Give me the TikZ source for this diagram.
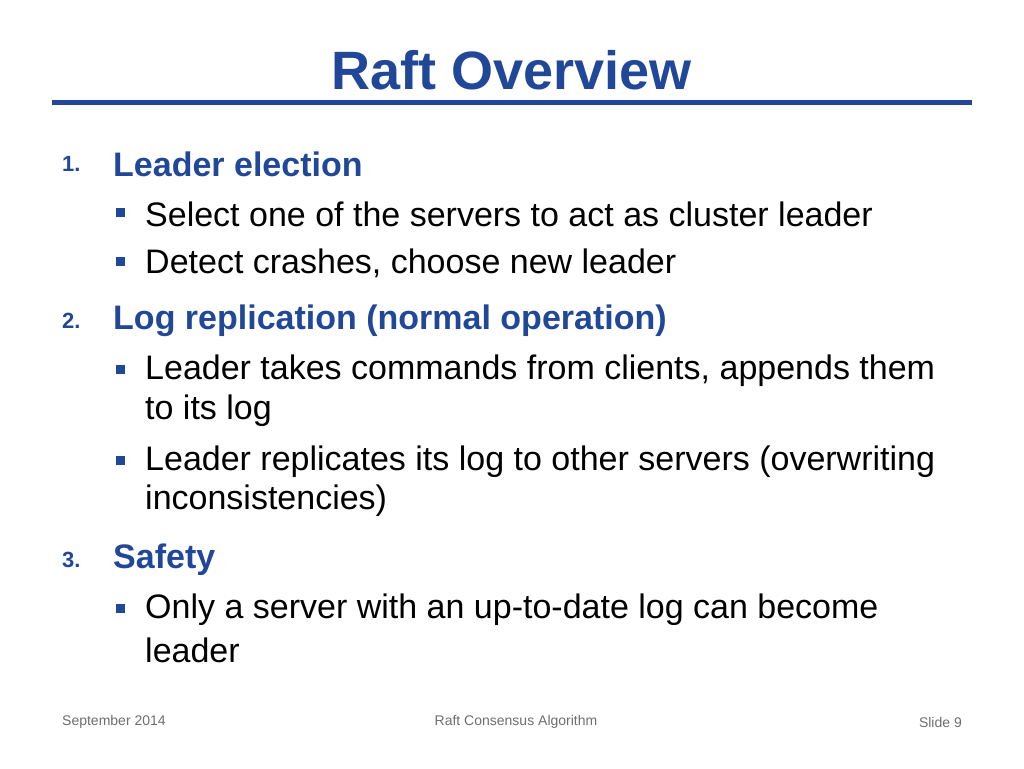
\documentclass[tikz,border=0pt]{standalone}
\usepackage{fontspec}
\setmainfont{Liberation Sans}
\definecolor{rblue}{RGB}{33,72,152}
\definecolor{fgray}{RGB}{110,110,110}
\begin{document}
\begin{tikzpicture}[x=1pt,y=-1pt,
  head/.style={anchor=west,inner sep=0pt,font=\fontsize{34}{38}\selectfont\bfseries,text=rblue},
  num/.style={anchor=west,inner sep=0pt,font=\fontsize{22}{26}\selectfont\bfseries,text=rblue},
  body/.style={anchor=west,inner sep=0pt,font=\fontsize{34}{38}\selectfont,text=black},
  bul/.style={fill=rblue,minimum size=9pt,inner sep=0pt},
  foot/.style={inner sep=0pt,font=\fontsize{14}{16}\selectfont,text=fgray}]
\useasboundingbox (0,0) rectangle (1024,768);
\node[inner sep=0pt,font=\fontsize{54}{60}\selectfont\bfseries,text=rblue] (title) at (512,70) {Raft Overview};
\coordinate (r1) at (52,102); \coordinate (r2) at (972,102);
\draw[rblue,line width=5pt] (r1) -- (r2);
\node[num] (n1) at (62,164) {1.};
\node[head] (h1) at (113,164) {Leader election};
\node[bul] (b1) at (120,212) {}; \node[body] (t1) at (145,214) {Select one of the servers to act as cluster leader};
\node[bul] (b2) at (120,261) {}; \node[body] (t2) at (145,263) {Detect crashes, choose new leader};
\node[num] (n2) at (62,321) {2.};
\node[head] (h2) at (113,321) {Log replication (normal operation)};
\node[bul] (b3) at (120,369) {}; \node[body] (t3) at (145,371) {Leader takes commands from clients, appends them};
\node[body] (t3b) at (145,411) {to its log};
\node[bul] (b4) at (120,460) {}; \node[body] (t4) at (145,462) {Leader replicates its log to other servers (overwriting};
\node[body] (t4b) at (145,501) {inconsistencies)};
\node[num] (n3) at (62,560) {3.};
\node[head] (h3) at (113,560) {Safety};
\node[bul] (b5) at (120,608) {}; \node[body] (t5) at (145,610) {Only a server with an up-to-date log can become};
\node[body] (t5b) at (145,650) {leader};
\node[foot,anchor=west] (f1) at (62,722) {September 2014};
\node[foot] (f2) at (516,722) {Raft Consensus Algorithm};
\node[foot,anchor=east] (f3) at (962,722) {Slide 9};
\end{tikzpicture}
\end{document}
